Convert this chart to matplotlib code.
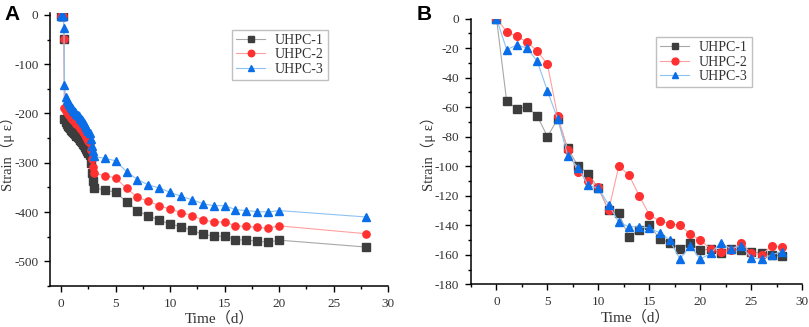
import matplotlib
matplotlib.use("Agg")
from matplotlib import pyplot as plt
from matplotlib.ticker import MultipleLocator

plt.rcParams['font.family'] = ['Liberation Serif', 'Noto Sans CJK SC', 'DejaVu Sans']
plt.rcParams['axes.unicode_minus'] = False

# ---- panel A: early-age strain (dense readings up to day 3, then daily) ----
a_time = [0, 0.1, 0.2, 0.25, 0.3, 0.4, 0.5, 0.6, 0.7, 0.8, 0.9, 1.0, 1.1, 1.2,
          1.3, 1.4, 1.5, 1.6, 1.7, 1.8, 1.9, 2.0, 2.1, 2.2, 2.3, 2.4, 2.5, 2.6,
          2.7, 2.8, 2.9, 3.0, 4, 5, 6, 7, 8, 9, 10, 11, 12, 13, 14, 15, 16, 17,
          18, 19, 20, 28]
a_uhpc1 = [-3, -3, -3, -48, -212, -218, -222, -225, -228, -230, -233, -235, -237, -240,
           -242, -245, -247, -250, -253, -255, -258, -261, -264, -268, -272, -276, -280, -285,
           -300, -320, -338, -351, -355, -360, -379, -398, -407, -417, -424, -430, -437, -445,
           -449, -449, -456, -457, -459, -461, -457, -471]
a_uhpc2 = [-3, -3, -3, -49, -188, -194, -198, -201, -204, -206, -209, -211, -213, -216,
           -218, -221, -223, -226, -229, -231, -234, -237, -240, -244, -248, -252, -256, -260,
           -275, -292, -308, -321, -326, -331, -352, -370, -378, -387, -394, -401, -407, -416,
           -420, -420, -428, -429, -431, -433, -428, -444]
a_uhpc3 = [-3, -3, -3, -26, -142, -166, -172, -176, -180, -183, -186, -189, -192, -195,
           -198, -201, -203, -206, -209, -211, -214, -217, -220, -223, -227, -231, -235, -240,
           -252, -265, -277, -287, -291, -296, -318, -334, -345, -351, -360, -368, -375, -383,
           -387, -387, -395, -397, -399, -400, -397, -410]

# ---- panel B: daily strain ----
b_time = list(range(0, 29))
b_uhpc1 = [0, -56, -61, -60, -66, -80, -68, -88, -100, -105, -115, -130, -132, -148, -143,
           -140, -149, -152, -156, -152, -157, -156, -159, -156, -157, -158, -159, -160, -161]
b_uhpc2 = [0, -9, -12, -16, -22, -31, -66, -89, -104, -110, -114, -130, -100, -106, -120,
           -133, -137, -139, -140, -146, -150, -156, -158, -157, -152, -159, -160, -154, -155]
b_uhpc3 = [0, -21, -18, -20, -29, -49, -68, -93, -101, -113, -115, -126, -138, -141, -141,
           -142, -145, -150, -163, -154, -163, -159, -152, -156, -154, -162, -163, -160, -158]

labels = ['UHPC-1', 'UHPC-2', 'UHPC-3']
markers = ['s', 'o', '^']
marker_colors = ['#3d3d3d', '#ff3030', '#0a6ee8']
line_colors = ['#a8a8a8', '#ffa0a0', '#8ec2f2']
text_color = '#333333'

fig = plt.figure(figsize=(8.09, 3.27), dpi=100)
ax_a = fig.add_axes([0.0622, 0.1254, 0.4174, 0.8336])
ax_b = fig.add_axes([0.5822, 0.1306, 0.4095, 0.8128])


def draw_panel(ax, t, series, msize):
    for y, lab, m, mc, lc in zip(series, labels, markers, marker_colors, line_colors):
        ax.plot(t, y, color=lc, lw=0.8, marker=m, markersize=msize,
                markerfacecolor=mc, markeredgecolor=mc, label=lab)
    for side in ['top', 'right']:
        ax.spines[side].set_visible(False)
    for side in ['left', 'bottom']:
        ax.spines[side].set_linewidth(1.1)
    ax.tick_params(which='major', direction='out', length=4.5, width=1, labelsize=9.5,
                   labelcolor=text_color, pad=4)
    ax.tick_params(which='minor', direction='out', length=2.5, width=1)
    ax.xaxis.set_major_locator(MultipleLocator(5))
    ax.xaxis.set_minor_locator(MultipleLocator(2.5))
    ax.set_xlabel('Time（d）', fontsize=11, color=text_color)
    ax.set_ylabel('Strain（μ ε）', fontsize=10.5, color=text_color)
    leg = ax.legend(loc='upper left', borderaxespad=0, fontsize=10, frameon=True,
                    fancybox=False, edgecolor='#b0b0b0', handlelength=2.1,
                    handletextpad=0.7, labelspacing=0.1, borderpad=0.3, markerscale=0.9)
    for txt in leg.get_texts():
        txt.set_color(text_color)
    return leg


leg_a = draw_panel(ax_a, a_time, [a_uhpc1, a_uhpc2, a_uhpc3], 5.2)
ax_a.set_xlim(-1, 30)
ax_a.set_ylim(-550, 3)
ax_a.yaxis.set_major_locator(MultipleLocator(100))
ax_a.yaxis.set_minor_locator(MultipleLocator(50))
leg_a.set_bbox_to_anchor((0.538, 0.94), transform=ax_a.transAxes)
ax_a.yaxis.set_label_coords(-0.104, 0.5)
ax_a.xaxis.set_label_coords(0.5, -0.093)

leg_b = draw_panel(ax_b, b_time, [b_uhpc1, b_uhpc2, b_uhpc3], 5.5)
ax_b.set_xlim(-2.5, 30)
ax_b.set_ylim(-180, 0)
ax_b.yaxis.set_major_locator(MultipleLocator(20))
ax_b.yaxis.set_minor_locator(MultipleLocator(10))
leg_b.set_bbox_to_anchor((0.558, 0.93), transform=ax_b.transAxes)
ax_b.yaxis.set_label_coords(-0.105, 0.505)
ax_b.xaxis.set_label_coords(0.497, -0.095)

fig.text(0.006, 0.985, 'A', fontsize=15, fontweight='bold', family='Liberation Sans',
         va='top', ha='left')
fig.text(0.515, 0.985, 'B', fontsize=15, fontweight='bold', family='Liberation Sans',
         va='top', ha='left')

fig.savefig('out.png', dpi=100)
